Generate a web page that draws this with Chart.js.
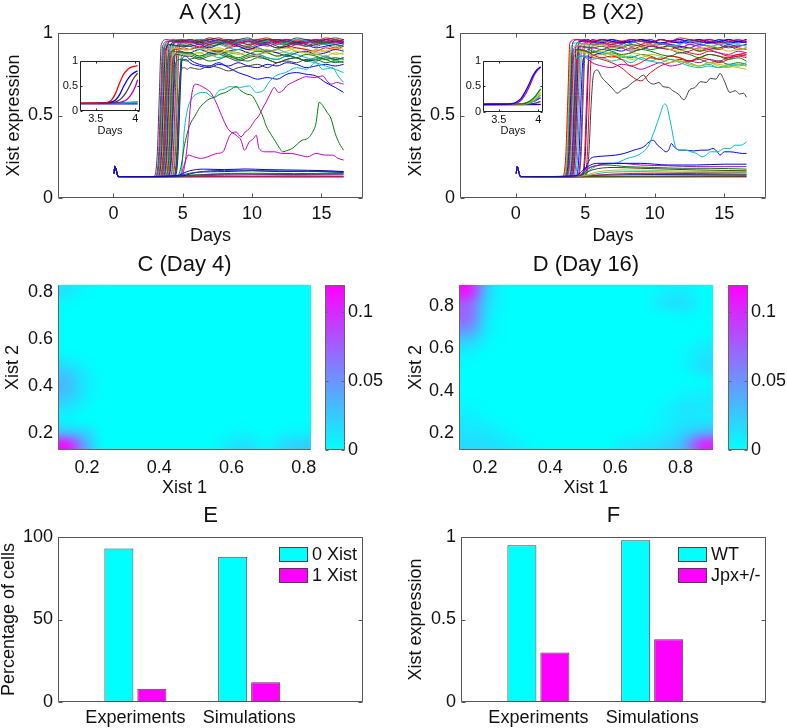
<!DOCTYPE html>
<html>
<head>
<meta charset="utf-8">
<script src="https://cdn.jsdelivr.net/npm/chart.js@4/dist/chart.umd.min.js"></script>
<style>
  body { margin: 0; background: #fff; width: 787px; height: 728px; position: relative; overflow: hidden; }
  canvas { position: absolute; }
</style>
</head>
<body>
<canvas id="cA" width="390" height="250" style="left:0;top:0"></canvas>
<canvas id="cB" width="397" height="250" style="left:390px;top:0"></canvas>
<canvas id="cAi" width="95" height="90" style="left:50px;top:52px"></canvas>
<canvas id="cBi" width="95" height="90" style="left:453px;top:52px"></canvas>
<canvas id="cC" width="390" height="250" style="left:0;top:250px"></canvas>
<canvas id="cCb" width="80" height="250" style="left:310px;top:250px"></canvas>
<canvas id="cD" width="397" height="250" style="left:390px;top:250px"></canvas>
<canvas id="cDb" width="74" height="250" style="left:713px;top:250px"></canvas>
<canvas id="cE" width="390" height="228" style="left:0;top:500px"></canvas>
<canvas id="cF" width="397" height="228" style="left:390px;top:500px"></canvas>
<script>
// ---- data ----
const COLORS = { b: '#0000ff', g: '#008000', r: '#ff0000', c: '#00bfbf', m: '#bf00bf', y: '#bfbf00', k: '#404040' };

const daysTicks = [0, 5, 10, 15];
const exprTicks = [0, 0.5, 1];
const insetDayTicks = [3.5, 4];
const xistTicks = [0.2, 0.4, 0.6, 0.8];
const densTicks = [0, 0.05, 0.1];
const pctTicks = [0, 50, 100];

// every trace starts with the same small spike at day 0
const startPts = [[0.05, 0.15], [0.1, 0.19], [0.35, 0.13]];
// days at which the plateau values of the saturated traces are read
const plateauDays = [5.5, 6.2, 6.9, 7.6, 8.3, 9.0, 9.7, 10.4, 11.1, 11.8, 12.5, 13.2, 13.9, 14.6, 15.3, 16.0, 16.6];

// panel A: traces that switch on and saturate [colour, rise, plateau]
const bandA = [
  ['k', [[2.9, 0.13], [3.15, 0.25], [3.3, 0.6], [3.45, 0.93], [3.8, 0.96], [4.6, 0.95]], [0.96, 0.95, 0.97, 0.96, 0.95, 0.96, 0.97, 0.95, 0.96, 0.96, 0.95, 0.97, 0.96, 0.95, 0.96, 0.97, 0.96]],
  ['m', [[3.0, 0.13], [3.25, 0.25], [3.4, 0.6], [3.55, 0.92], [3.9, 0.95], [4.7, 0.94]], [0.95, 0.93, 0.94, 0.96, 0.94, 0.93, 0.95, 0.94, 0.92, 0.94, 0.95, 0.93, 0.94, 0.96, 0.95, 0.94, 0.95]],
  ['g', [[3.05, 0.13], [3.3, 0.25], [3.45, 0.6], [3.6, 0.9], [4.0, 0.93], [4.8, 0.92]], [0.93, 0.94, 0.92, 0.93, 0.95, 0.93, 0.92, 0.94, 0.93, 0.91, 0.93, 0.94, 0.92, 0.93, 0.94, 0.93, 0.92]],
  ['c', [[3.1, 0.13], [3.35, 0.25], [3.5, 0.6], [3.65, 0.92], [4.0, 0.95], [4.8, 0.94]], [0.95, 0.96, 0.94, 0.95, 0.93, 0.95, 0.96, 0.94, 0.95, 0.93, 0.94, 0.96, 0.95, 0.93, 0.94, 0.92, 0.93]],
  ['r', [[3.15, 0.13], [3.4, 0.25], [3.55, 0.6], [3.7, 0.92], [4.1, 0.95], [4.9, 0.94]], [0.94, 0.95, 0.93, 0.96, 0.94, 0.95, 0.93, 0.95, 0.96, 0.94, 0.93, 0.95, 0.94, 0.96, 0.95, 0.94, 0.96]],
  ['b', [[3.2, 0.13], [3.45, 0.25], [3.6, 0.6], [3.75, 0.9], [4.1, 0.93], [4.9, 0.92]], [0.92, 0.93, 0.91, 0.93, 0.94, 0.92, 0.9, 0.92, 0.93, 0.91, 0.92, 0.94, 0.93, 0.91, 0.92, 0.93, 0.94]],
  ['y', [[3.25, 0.13], [3.5, 0.25], [3.65, 0.6], [3.8, 0.88], [4.2, 0.91], [5.0, 0.9]], [0.9, 0.88, 0.9, 0.91, 0.89, 0.87, 0.89, 0.9, 0.88, 0.9, 0.91, 0.89, 0.88, 0.9, 0.89, 0.91, 0.9]],
  ['k', [[3.3, 0.13], [3.55, 0.25], [3.7, 0.6], [3.85, 0.92], [4.2, 0.95], [5.0, 0.96]], [0.95, 0.96, 0.95, 0.94, 0.96, 0.95, 0.96, 0.94, 0.95, 0.96, 0.95, 0.94, 0.96, 0.95, 0.94, 0.95, 0.96]],
  ['r', [[3.35, 0.13], [3.6, 0.25], [3.75, 0.6], [3.9, 0.93], [4.3, 0.96], [5.0, 0.95]], [0.96, 0.95, 0.96, 0.97, 0.95, 0.96, 0.95, 0.96, 0.97, 0.95, 0.96, 0.95, 0.96, 0.95, 0.97, 0.96, 0.95]],
  ['g', [[3.4, 0.13], [3.65, 0.25], [3.8, 0.6], [3.95, 0.86], [4.3, 0.89], [5.0, 0.88]], [0.88, 0.86, 0.88, 0.89, 0.87, 0.85, 0.87, 0.89, 0.88, 0.86, 0.87, 0.85, 0.87, 0.86, 0.84, 0.85, 0.84]],
  ['m', [[3.45, 0.13], [3.7, 0.25], [3.85, 0.6], [4.0, 0.92], [4.4, 0.94], [5.0, 0.95]], [0.94, 0.95, 0.93, 0.95, 0.96, 0.94, 0.95, 0.93, 0.94, 0.96, 0.95, 0.93, 0.95, 0.94, 0.96, 0.95, 0.94]],
  ['c', [[3.5, 0.13], [3.75, 0.25], [3.9, 0.6], [4.05, 0.9], [4.4, 0.92], [5.0, 0.93]], [0.92, 0.9, 0.92, 0.93, 0.91, 0.9, 0.92, 0.91, 0.89, 0.9, 0.88, 0.87, 0.85, 0.84, 0.86, 0.83, 0.85]],
  ['b', [[3.55, 0.13], [3.8, 0.25], [3.95, 0.6], [4.1, 0.92], [4.5, 0.95], [5.1, 0.95]], [0.95, 0.94, 0.96, 0.95, 0.94, 0.95, 0.96, 0.95, 0.94, 0.95, 0.96, 0.94, 0.95, 0.96, 0.94, 0.95, 0.95]],
  ['r', [[3.6, 0.13], [3.85, 0.25], [4.0, 0.6], [4.15, 0.88], [4.5, 0.9], [5.1, 0.91]], [0.9, 0.92, 0.9, 0.89, 0.91, 0.92, 0.9, 0.91, 0.89, 0.9, 0.92, 0.91, 0.9, 0.89, 0.91, 0.9, 0.92]],
  ['y', [[3.65, 0.13], [3.9, 0.25], [4.05, 0.6], [4.2, 0.85], [4.6, 0.88], [5.1, 0.87]], [0.87, 0.88, 0.86, 0.87, 0.89, 0.88, 0.86, 0.87, 0.88, 0.86, 0.87, 0.89, 0.88, 0.87, 0.86, 0.88, 0.87]],
  ['g', [[3.7, 0.13], [3.95, 0.25], [4.1, 0.6], [4.25, 0.92], [4.6, 0.95], [5.2, 0.94]], [0.95, 0.94, 0.96, 0.95, 0.93, 0.94, 0.95, 0.94, 0.96, 0.95, 0.94, 0.93, 0.95, 0.94, 0.95, 0.96, 0.95]],
  ['k', [[3.75, 0.13], [4.0, 0.25], [4.15, 0.6], [4.3, 0.85], [4.6, 0.87], [5.2, 0.86]], [0.86, 0.84, 0.86, 0.87, 0.85, 0.83, 0.85, 0.86, 0.84, 0.82, 0.84, 0.85, 0.83, 0.84, 0.86, 0.84, 0.85]],
  ['c', [[3.8, 0.13], [4.05, 0.25], [4.2, 0.6], [4.35, 0.93], [4.7, 0.96], [5.2, 0.95]], [0.96, 0.95, 0.96, 0.94, 0.95, 0.96, 0.94, 0.95, 0.96, 0.95, 0.94, 0.96, 0.95, 0.94, 0.93, 0.95, 0.94]],
  ['r', [[3.85, 0.13], [4.1, 0.25], [4.25, 0.6], [4.4, 0.9], [4.8, 0.93], [5.3, 0.92]], [0.93, 0.91, 0.93, 0.94, 0.92, 0.93, 0.91, 0.93, 0.94, 0.92, 0.91, 0.93, 0.92, 0.94, 0.93, 0.91, 0.93]],
  ['b', [[3.9, 0.13], [4.15, 0.25], [4.3, 0.6], [4.45, 0.87], [4.8, 0.89], [5.3, 0.88]], [0.88, 0.9, 0.88, 0.87, 0.89, 0.9, 0.88, 0.87, 0.89, 0.88, 0.86, 0.88, 0.89, 0.87, 0.88, 0.9, 0.89]],
  ['g', [[3.95, 0.13], [4.2, 0.25], [4.35, 0.6], [4.5, 0.82], [4.8, 0.84], [5.3, 0.83]], [0.84, 0.85, 0.83, 0.84, 0.86, 0.84, 0.83, 0.85, 0.84, 0.82, 0.84, 0.85, 0.83, 0.84, 0.82, 0.83, 0.82]],
  ['m', [[4.05, 0.13], [4.3, 0.25], [4.45, 0.6], [4.6, 0.92], [4.9, 0.95], [5.3, 0.94]], [0.95, 0.93, 0.95, 0.94, 0.96, 0.95, 0.93, 0.94, 0.95, 0.93, 0.94, 0.95, 0.94, 0.92, 0.94, 0.95, 0.94]],
  ['y', [[4.1, 0.13], [4.35, 0.25], [4.5, 0.6], [4.65, 0.88], [5.0, 0.9], [5.3, 0.89]], [0.9, 0.91, 0.89, 0.9, 0.88, 0.9, 0.91, 0.89, 0.9, 0.88, 0.89, 0.91, 0.9, 0.88, 0.89, 0.87, 0.88]],
  ['c', [[4.15, 0.13], [4.4, 0.25], [4.55, 0.6], [4.7, 0.86], [5.0, 0.88], [5.3, 0.87]], [0.88, 0.86, 0.87, 0.85, 0.87, 0.88, 0.86, 0.87, 0.85, 0.84, 0.86, 0.85, 0.83, 0.82, 0.8, 0.78, 0.76]],
  ['r', [[4.2, 0.13], [4.45, 0.25], [4.6, 0.6], [4.75, 0.92], [5.1, 0.95], [5.35, 0.95]], [0.95, 0.96, 0.94, 0.95, 0.96, 0.94, 0.95, 0.96, 0.95, 0.94, 0.96, 0.95, 0.94, 0.95, 0.96, 0.95, 0.94]],
  ['k', [[4.3, 0.13], [4.55, 0.25], [4.7, 0.6], [4.85, 0.77], [5.1, 0.79], [5.35, 0.78]], [0.79, 0.78, 0.8, 0.79, 0.77, 0.79, 0.8, 0.81, 0.79, 0.82, 0.83, 0.82, 0.84, 0.83, 0.85, 0.84, 0.85]],
  ['g', [[4.35, 0.13], [4.6, 0.25], [4.75, 0.6], [4.9, 0.86], [5.2, 0.88], [5.4, 0.87]], [0.87, 0.85, 0.87, 0.88, 0.86, 0.84, 0.86, 0.87, 0.85, 0.84, 0.86, 0.85, 0.83, 0.85, 0.84, 0.82, 0.83]],
  ['b', [[4.35, 0.13], [4.6, 0.25], [4.75, 0.6], [4.9, 0.83], [5.2, 0.84], [5.4, 0.83]], [0.82, 0.8, 0.79, 0.81, 0.8, 0.82, 0.8, 0.79, 0.81, 0.8, 0.82, 0.81, 0.79, 0.8, 0.81, 0.8, 0.81]],
  ['b', [[4.4, 0.13], [4.65, 0.25], [4.8, 0.6], [4.95, 0.84], [5.2, 0.86], [5.4, 0.85]], [0.84, 0.81, 0.8, 0.82, 0.79, 0.76, 0.74, 0.72, 0.73, 0.72, 0.75, 0.76, 0.75, 0.74, 0.7, 0.67, 0.64]]
];

// panel A: traces that wander in the middle of the range [colour, points]
const wanderA = [
  ['m', [[4.9, 0.13], [5.3, 0.3], [5.6, 0.6], [5.9, 0.69], [6.3, 0.68], [6.7, 0.66], [7.0, 0.64], [7.4, 0.58], [7.8, 0.5], [8.25, 0.42], [8.85, 0.38], [9.2, 0.35], [9.45, 0.29], [9.8, 0.34], [10.1, 0.36], [10.3, 0.38], [10.5, 0.3], [11.0, 0.28], [11.6, 0.28], [12.2, 0.27], [12.8, 0.27], [13.4, 0.26], [14.0, 0.25], [14.6, 0.27], [15.3, 0.26], [15.8, 0.26], [16.2, 0.24], [16.6, 0.23]]],
  ['m', [[4.8, 0.13], [5.1, 0.2], [5.4, 0.26], [5.8, 0.25], [6.3, 0.24], [6.8, 0.25], [7.1, 0.26], [7.5, 0.27], [7.9, 0.28], [8.2, 0.34], [8.4, 0.38], [8.85, 0.4], [9.2, 0.37], [9.5, 0.4], [9.8, 0.42], [10.2, 0.47], [10.5, 0.5], [10.8, 0.55], [11.0, 0.58], [11.3, 0.63], [11.6, 0.67], [11.9, 0.64], [12.2, 0.65], [12.5, 0.68], [12.9, 0.7], [13.4, 0.72], [13.9, 0.735], [14.5, 0.73], [15.1, 0.74], [15.4, 0.71], [15.7, 0.69], [16.1, 0.7], [16.6, 0.69]]],
  ['g', [[4.6, 0.13], [4.9, 0.2], [5.1, 0.31], [5.5, 0.44], [5.9, 0.5], [6.2, 0.545], [6.6, 0.58], [6.9, 0.6], [7.3, 0.61], [7.7, 0.63], [8.1, 0.64], [8.5, 0.66], [8.85, 0.675], [9.2, 0.65], [9.6, 0.63], [10.0, 0.62], [10.3, 0.58], [10.5, 0.545], [10.8, 0.49], [11.0, 0.44], [11.4, 0.38], [11.7, 0.34], [12.0, 0.3], [12.2, 0.28], [12.6, 0.29], [12.9, 0.3], [13.3, 0.33], [13.6, 0.35], [14.0, 0.36], [14.3, 0.39], [14.6, 0.45], [14.85, 0.58], [15.1, 0.56], [15.4, 0.52], [15.7, 0.48], [16.0, 0.39], [16.3, 0.33], [16.6, 0.29]]],
  ['c', [[4.7, 0.13], [4.95, 0.2], [5.1, 0.4], [5.3, 0.52], [5.5, 0.58], [6.0, 0.63], [6.6, 0.64], [7.2, 0.61], [7.6, 0.65], [8.0, 0.66], [8.4, 0.675], [9.1, 0.67], [9.8, 0.68], [10.3, 0.64], [10.8, 0.65], [11.2, 0.7], [11.7, 0.74], [12.4, 0.76], [13.2, 0.79], [13.9, 0.78], [14.6, 0.82], [15.1, 0.78], [15.8, 0.79], [16.2, 0.74], [16.6, 0.7]]]
];

// panel A: traces that stay low
const lowA = [
  ['b', [[2.5, 0.13], [4.5, 0.135], [5.5, 0.165], [6.5, 0.175], [8, 0.172], [9.5, 0.176], [11, 0.172], [12.5, 0.17], [14, 0.168], [15.5, 0.165], [16.6, 0.16]]],
  ['k', [[2.5, 0.13], [4.5, 0.133], [5.5, 0.15], [7, 0.165], [9, 0.168], [11, 0.165], [13, 0.163], [15, 0.16], [16.6, 0.158]]],
  ['b', [[2.5, 0.13], [5, 0.135], [6, 0.155], [8, 0.16], [10, 0.165], [12, 0.16], [14, 0.162], [16.6, 0.155]]],
  ['g', [[2.5, 0.13], [5, 0.133], [7, 0.145], [10, 0.15], [13, 0.148], [16.6, 0.15]]],
  ['r', [[2.5, 0.128], [6, 0.13], [10, 0.131], [13, 0.129], [16.6, 0.13]]],
  ['m', [[2.5, 0.13], [6, 0.135], [10, 0.14], [13, 0.138], [16.6, 0.14]]],
  ['c', [[2.5, 0.128], [8, 0.13], [16.6, 0.13]]],
  ['k', [[2.5, 0.13], [6, 0.14], [9, 0.145], [12, 0.142], [16.6, 0.145]]],
  ['b', [[2.5, 0.128], [8, 0.128], [16.6, 0.128]]]
];

// panel B
const bandB = [
  ['r', [[3.35, 0.13], [3.6, 0.25], [3.75, 0.6], [3.9, 0.94], [4.3, 0.96], [5.0, 0.95]], [0.95, 0.96, 0.94, 0.95, 0.96, 0.95, 0.94, 0.96, 0.95, 0.97, 0.96, 0.95, 0.96, 0.94, 0.95, 0.96, 0.95]],
  ['y', [[3.4, 0.13], [3.65, 0.25], [3.8, 0.6], [3.95, 0.9], [4.3, 0.92], [5.0, 0.93]], [0.92, 0.93, 0.91, 0.92, 0.9, 0.91, 0.93, 0.92, 0.9, 0.89, 0.91, 0.9, 0.92, 0.91, 0.89, 0.9, 0.91]],
  ['c', [[3.45, 0.13], [3.7, 0.25], [3.85, 0.6], [4.0, 0.92], [4.4, 0.94], [5.0, 0.93]], [0.93, 0.95, 0.94, 0.92, 0.94, 0.95, 0.93, 0.94, 0.92, 0.93, 0.95, 0.94, 0.92, 0.93, 0.94, 0.93, 0.92]],
  ['g', [[3.5, 0.13], [3.75, 0.25], [3.9, 0.6], [4.05, 0.88], [4.4, 0.9], [5.0, 0.89]], [0.88, 0.9, 0.89, 0.87, 0.88, 0.9, 0.89, 0.87, 0.86, 0.88, 0.87, 0.85, 0.87, 0.86, 0.84, 0.85, 0.83]],
  ['b', [[3.55, 0.13], [3.8, 0.25], [3.95, 0.6], [4.1, 0.94], [4.5, 0.96], [5.1, 0.95]], [0.95, 0.96, 0.95, 0.94, 0.96, 0.95, 0.96, 0.94, 0.95, 0.96, 0.95, 0.96, 0.94, 0.95, 0.96, 0.95, 0.96]],
  ['m', [[3.6, 0.13], [3.85, 0.25], [4.0, 0.6], [4.15, 0.9], [4.5, 0.92], [5.1, 0.91]], [0.91, 0.9, 0.92, 0.91, 0.89, 0.9, 0.92, 0.91, 0.9, 0.88, 0.89, 0.91, 0.9, 0.88, 0.87, 0.89, 0.88]],
  ['r', [[3.65, 0.13], [3.9, 0.25], [4.05, 0.6], [4.2, 0.88], [4.6, 0.9], [5.1, 0.89]], [0.87, 0.85, 0.86, 0.84, 0.8, 0.82, 0.85, 0.84, 0.86, 0.85, 0.83, 0.85, 0.87, 0.86, 0.85, 0.87, 0.86]],
  ['y', [[3.7, 0.13], [3.95, 0.25], [4.1, 0.6], [4.25, 0.87], [4.6, 0.89], [5.2, 0.88]], [0.88, 0.89, 0.87, 0.86, 0.88, 0.87, 0.85, 0.84, 0.82, 0.83, 0.81, 0.8, 0.82, 0.81, 0.8, 0.79, 0.78]],
  ['c', [[3.75, 0.13], [4.0, 0.25], [4.15, 0.6], [4.3, 0.84], [4.7, 0.86], [5.2, 0.85]], [0.84, 0.85, 0.83, 0.84, 0.82, 0.85, 0.83, 0.82, 0.84, 0.82, 0.8, 0.79, 0.8, 0.79, 0.81, 0.8, 0.82]],
  ['b', [[3.8, 0.13], [4.05, 0.25], [4.2, 0.6], [4.35, 0.93], [4.7, 0.95], [5.2, 0.96]], [0.95, 0.94, 0.96, 0.95, 0.94, 0.96, 0.95, 0.94, 0.95, 0.96, 0.94, 0.95, 0.96, 0.95, 0.94, 0.95, 0.94]],
  ['m', [[3.85, 0.13], [4.1, 0.25], [4.25, 0.6], [4.4, 0.84], [4.8, 0.86], [5.2, 0.84]], [0.82, 0.8, 0.79, 0.81, 0.8, 0.78, 0.8, 0.82, 0.8, 0.81, 0.83, 0.82, 0.84, 0.83, 0.85, 0.86, 0.87]],
  ['g', [[3.9, 0.13], [4.15, 0.25], [4.3, 0.6], [4.45, 0.9], [4.8, 0.92], [5.3, 0.91]], [0.91, 0.92, 0.9, 0.91, 0.93, 0.92, 0.9, 0.91, 0.92, 0.9, 0.91, 0.89, 0.9, 0.91, 0.92, 0.9, 0.91]],
  ['r', [[3.95, 0.13], [4.2, 0.25], [4.35, 0.6], [4.5, 0.93], [4.9, 0.95], [5.3, 0.94]], [0.94, 0.95, 0.93, 0.94, 0.92, 0.93, 0.95, 0.94, 0.92, 0.9, 0.88, 0.87, 0.89, 0.88, 0.86, 0.87, 0.88]],
  ['b', [[4.0, 0.13], [4.25, 0.25], [4.4, 0.6], [4.55, 0.94], [4.9, 0.96], [5.3, 0.95]], [0.96, 0.95, 0.96, 0.94, 0.95, 0.96, 0.94, 0.96, 0.95, 0.94, 0.96, 0.95, 0.94, 0.96, 0.95, 0.94, 0.95]],
  ['y', [[4.05, 0.13], [4.3, 0.25], [4.45, 0.6], [4.6, 0.86], [5.0, 0.88], [5.3, 0.87]], [0.86, 0.87, 0.85, 0.86, 0.84, 0.85, 0.87, 0.86, 0.84, 0.83, 0.81, 0.8, 0.82, 0.8, 0.79, 0.81, 0.8]],
  ['m', [[4.1, 0.13], [4.35, 0.25], [4.5, 0.6], [4.65, 0.92], [5.0, 0.94], [5.3, 0.93]], [0.93, 0.94, 0.92, 0.93, 0.95, 0.93, 0.92, 0.94, 0.93, 0.91, 0.93, 0.92, 0.94, 0.93, 0.91, 0.92, 0.93]],
  ['c', [[4.2, 0.13], [4.45, 0.25], [4.6, 0.6], [4.75, 0.9], [5.1, 0.92], [5.35, 0.91]], [0.9, 0.88, 0.87, 0.85, 0.86, 0.84, 0.83, 0.85, 0.84, 0.83, 0.82, 0.8, 0.81, 0.79, 0.8, 0.81, 0.8]],
  ['b', [[4.3, 0.13], [4.55, 0.25], [4.7, 0.6], [4.85, 0.84], [5.2, 0.86], [5.4, 0.85]], [0.86, 0.88, 0.9, 0.89, 0.91, 0.9, 0.92, 0.91, 0.93, 0.92, 0.91, 0.93, 0.92, 0.91, 0.93, 0.92, 0.93]],
  ['m', [[4.4, 0.13], [4.65, 0.25], [4.8, 0.6], [4.95, 0.93], [5.2, 0.95], [5.4, 0.94]], [0.95, 0.94, 0.93, 0.95, 0.94, 0.96, 0.95, 0.93, 0.94, 0.95, 0.93, 0.94, 0.95, 0.93, 0.94, 0.95, 0.94]],
  ['g', [[4.45, 0.13], [4.7, 0.25], [4.85, 0.6], [5.0, 0.88], [5.3, 0.9], [5.45, 0.89]], [0.89, 0.87, 0.88, 0.86, 0.85, 0.87, 0.86, 0.84, 0.86, 0.85, 0.83, 0.84, 0.82, 0.83, 0.81, 0.82, 0.81]],
  ['r', [[4.7, 0.13], [4.95, 0.25], [5.1, 0.6], [5.25, 0.84], [5.4, 0.85]], [0.85, 0.84, 0.82, 0.79, 0.74, 0.71, 0.76, 0.8, 0.82, 0.84, 0.83, 0.85, 0.84, 0.82, 0.84, 0.86, 0.85]],
  ['b', [[4.75, 0.13], [5.0, 0.25], [5.15, 0.6], [5.3, 0.92], [5.45, 0.94]], [0.94, 0.96, 0.95, 0.94, 0.96, 0.95, 0.94, 0.96, 0.95, 0.94, 0.95, 0.96, 0.95, 0.94, 0.96, 0.95, 0.96]],
  ['r', [[4.95, 0.13], [5.15, 0.25], [5.3, 0.6], [5.45, 0.9]], [0.92, 0.93, 0.91, 0.92, 0.9, 0.92, 0.93, 0.91, 0.9, 0.92, 0.91, 0.89, 0.91, 0.9, 0.92, 0.91, 0.9]]
];

const wanderB = [
  ['k', [[5.0, 0.13], [5.25, 0.25], [5.45, 0.6], [5.6, 0.75], [5.86, 0.776], [6.2, 0.73], [6.6, 0.695], [7.0, 0.66], [7.3, 0.635], [7.7, 0.66], [8.0, 0.67], [8.4, 0.7], [8.7, 0.715], [9.2, 0.745], [9.5, 0.71], [9.9, 0.69], [10.3, 0.7], [10.6, 0.675], [11.0, 0.67], [11.3, 0.65], [11.7, 0.63], [12.1, 0.595], [12.5, 0.655], [12.9, 0.67], [13.3, 0.705], [13.7, 0.7], [14.0, 0.725], [14.4, 0.72], [14.7, 0.755], [15.0, 0.71], [15.4, 0.64], [15.8, 0.65], [16.1, 0.63], [16.4, 0.635], [16.6, 0.61]]],
  ['c', [[4.6, 0.13], [5.0, 0.15], [5.5, 0.18], [6.0, 0.2], [6.5, 0.21], [7.0, 0.21], [7.5, 0.22], [8.0, 0.24], [8.5, 0.25], [9.0, 0.27], [9.5, 0.31], [9.9, 0.39], [10.2, 0.46], [10.4, 0.51], [10.6, 0.56], [10.75, 0.57], [10.9, 0.55], [11.05, 0.49], [11.2, 0.43], [11.35, 0.36], [11.5, 0.31], [11.8, 0.29], [12.2, 0.29], [12.6, 0.28], [13.0, 0.27], [13.4, 0.25], [13.7, 0.26], [14.0, 0.28], [14.5, 0.28], [15.0, 0.3], [15.4, 0.3], [15.8, 0.32], [16.2, 0.32], [16.6, 0.34]]],
  ['b', [[4.5, 0.13], [4.9, 0.16], [5.4, 0.24], [5.8, 0.25], [6.5, 0.255], [7.2, 0.26], [7.8, 0.27], [8.5, 0.29], [9.2, 0.31], [9.6, 0.34], [9.9, 0.35], [10.2, 0.32], [10.5, 0.3], [10.8, 0.28], [11.0, 0.29], [11.2, 0.33], [11.4, 0.31], [11.8, 0.29], [12.2, 0.29], [12.8, 0.285], [13.3, 0.29], [13.8, 0.29], [14.2, 0.3], [14.5, 0.28], [14.7, 0.26], [15.0, 0.28], [15.4, 0.28], [15.9, 0.275], [16.3, 0.27], [16.6, 0.27]]]
];

const lowB = [
  ['b', [[2.5, 0.13], [4.3, 0.135], [5.0, 0.18], [5.8, 0.21], [7, 0.21], [9, 0.21], [11, 0.2], [13, 0.2], [15, 0.205], [16.6, 0.205]]],
  ['m', [[2.5, 0.13], [4.4, 0.135], [5.2, 0.18], [6, 0.2], [7.5, 0.21], [9, 0.2], [11, 0.195], [13, 0.19], [15, 0.19], [16.6, 0.19]]],
  ['g', [[2.5, 0.13], [4.5, 0.135], [5.5, 0.19], [6.5, 0.2], [8, 0.19], [10, 0.185], [12, 0.18], [14, 0.18], [16.6, 0.175]]],
  ['k', [[2.5, 0.13], [4.6, 0.135], [5.5, 0.17], [7, 0.185], [9, 0.18], [11, 0.175], [13, 0.17], [16.6, 0.165]]],
  ['y', [[2.5, 0.13], [4.8, 0.135], [6, 0.16], [8, 0.17], [11, 0.165], [14, 0.16], [16.6, 0.16]]],
  ['c', [[2.5, 0.13], [5, 0.135], [6.5, 0.155], [9, 0.16], [12, 0.155], [16.6, 0.155]]],
  ['r', [[2.5, 0.13], [5, 0.133], [7, 0.145], [10, 0.15], [13, 0.148], [16.6, 0.145]]],
  ['g', [[2.5, 0.128], [8, 0.132], [16.6, 0.135]]],
  ['k', [[2.5, 0.128], [16.6, 0.13]]],
  ['r', [[2.5, 0.128], [16.6, 0.128]]],
  ['b', [[2.5, 0.13], [6, 0.138], [10, 0.142], [16.6, 0.14]]]
];

// insets: zoom on days 3.3 - 4.05
const insetA = [
  ['r', [[3.3, 0.15], [3.55, 0.155], [3.65, 0.17], [3.7, 0.22], [3.75, 0.35], [3.8, 0.55], [3.85, 0.72], [3.9, 0.82], [3.95, 0.87], [4.03, 0.9]]],
  ['b', [[3.3, 0.15], [3.6, 0.16], [3.7, 0.18], [3.75, 0.22], [3.8, 0.32], [3.85, 0.48], [3.9, 0.62], [3.95, 0.72], [4.03, 0.8]]],
  ['k', [[3.3, 0.15], [3.7, 0.16], [3.78, 0.2], [3.83, 0.26], [3.88, 0.36], [3.93, 0.5], [3.98, 0.65], [4.03, 0.75]]],
  ['m', [[3.3, 0.15], [3.75, 0.16], [3.85, 0.19], [3.9, 0.24], [3.95, 0.33], [4.0, 0.48], [4.03, 0.62]]],
  ['c', [[3.3, 0.15], [3.7, 0.155], [4.03, 0.17]]],
  ['g', [[3.3, 0.15], [3.7, 0.155], [4.03, 0.18]]],
  ['b', [[3.3, 0.14], [4.03, 0.14]]]
];
const insetB = [
  ['b', [[3.3, 0.15], [3.65, 0.16], [3.72, 0.19], [3.78, 0.26], [3.83, 0.38], [3.88, 0.53], [3.93, 0.7], [3.98, 0.82], [4.03, 0.88]]],
  ['m', [[3.3, 0.15], [3.67, 0.16], [3.75, 0.19], [3.8, 0.26], [3.85, 0.38], [3.9, 0.54], [3.95, 0.72], [4.0, 0.83], [4.03, 0.87]]],
  ['g', [[3.3, 0.15], [3.8, 0.16], [3.9, 0.22], [3.97, 0.32], [4.03, 0.45]]],
  ['y', [[3.3, 0.15], [3.82, 0.16], [3.92, 0.22], [3.98, 0.3], [4.03, 0.38]]],
  ['c', [[3.3, 0.15], [3.85, 0.16], [3.95, 0.22], [4.03, 0.33]]],
  ['m', [[3.3, 0.15], [3.8, 0.16], [3.95, 0.21], [4.03, 0.28]]],
  ['k', [[3.3, 0.15], [3.9, 0.16], [4.03, 0.2]]],
  ['b', [[3.3, 0.145], [4.03, 0.15]]],
  ['r', [[3.3, 0.14], [4.03, 0.145]]]
];

// panels C, D: density of (Xist 1, Xist 2), rows from top (high Xist 2) to bottom
const heatC = [
  [0.012, 0.003, 0, 0, 0, 0, 0, 0, 0, 0, 0, 0, 0, 0],
  [0.003, 0, 0, 0, 0, 0, 0, 0, 0, 0, 0, 0, 0, 0],
  [0, 0, 0, 0, 0, 0, 0, 0, 0, 0, 0, 0, 0, 0],
  [0, 0, 0, 0, 0, 0, 0, 0, 0, 0, 0, 0, 0, 0],
  [0, 0, 0, 0, 0, 0, 0, 0, 0, 0, 0, 0, 0, 0],
  [0, 0, 0, 0, 0, 0, 0, 0, 0, 0, 0, 0, 0, 0],
  [0.01, 0.002, 0, 0, 0, 0, 0, 0, 0, 0, 0, 0, 0, 0],
  [0.025, 0.008, 0, 0, 0, 0, 0, 0, 0, 0, 0, 0, 0, 0],
  [0.032, 0.01, 0, 0, 0, 0, 0, 0, 0, 0, 0, 0, 0, 0],
  [0.025, 0.008, 0, 0, 0, 0, 0, 0, 0, 0, 0, 0, 0, 0],
  [0.012, 0.003, 0, 0, 0, 0, 0, 0, 0, 0, 0, 0, 0, 0],
  [0.005, 0, 0, 0, 0, 0, 0, 0, 0, 0, 0, 0, 0, 0],
  [0.03, 0.02, 0, 0, 0, 0, 0, 0, 0, 0.003, 0.004, 0, 0.004, 0.006],
  [0.11, 0.04, 0, 0, 0, 0, 0, 0, 0, 0.01, 0.014, 0.004, 0.016, 0.022]
];
const heatD = [
  [0.11, 0.02, 0, 0, 0, 0, 0, 0, 0, 0, 0.005, 0.008, 0],
  [0.075, 0.015, 0, 0, 0, 0, 0, 0, 0, 0, 0.012, 0.015, 0.002],
  [0.07, 0.01, 0, 0, 0, 0, 0, 0, 0, 0, 0, 0.003, 0],
  [0.05, 0.008, 0, 0, 0, 0, 0, 0, 0, 0, 0, 0, 0],
  [0.02, 0.003, 0, 0, 0, 0, 0, 0, 0, 0, 0, 0, 0.005],
  [0.005, 0, 0, 0, 0, 0, 0, 0, 0, 0, 0, 0.003, 0.012],
  [0, 0, 0, 0, 0, 0, 0, 0, 0, 0, 0, 0.003, 0.015],
  [0, 0, 0, 0, 0, 0, 0, 0, 0, 0, 0, 0, 0.003],
  [0, 0, 0, 0, 0, 0, 0, 0, 0, 0, 0, 0.004, 0.006],
  [0.003, 0, 0, 0, 0, 0, 0, 0, 0, 0, 0.004, 0.012, 0.012],
  [0.008, 0.003, 0, 0, 0, 0, 0, 0, 0, 0, 0.006, 0.012, 0.01],
  [0.012, 0.01, 0.004, 0, 0, 0, 0, 0, 0, 0.003, 0.008, 0.018, 0.03],
  [0.016, 0.015, 0.01, 0.003, 0, 0, 0, 0, 0.008, 0.012, 0.016, 0.035, 0.1]
];
const densMax = 0.12;

// panels E, F
const groups = ['Experiments', 'Simulations'];
const groupPos = [1, 2];
const zeroXist = [93, 88];
const oneXist = [8, 12];
const wtExpr = [0.95, 0.98];
const jpxExpr = [0.3, 0.38];

// ---- drawing ----
const FONT = '"Liberation Sans", Arial, Helvetica, sans-serif';
Chart.defaults.font.family = FONT;
Chart.defaults.color = '#111';
Chart.defaults.animation = false;
Chart.defaults.plugins.legend.display = false;
Chart.defaults.plugins.tooltip.enabled = false;

function trace(c, pts, w) {
  return {
    data: pts.map(p => ({ x: p[0], y: p[1] })),
    borderColor: COLORS[c], borderWidth: w || 1, pointRadius: 0, fill: false,
    cubicInterpolationMode: 'monotone'
  };
}
const bandTraces = list => list.map(([c, rise, lvl]) =>
  trace(c, startPts.concat(rise, lvl.map((v, i) => [plateauDays[i], v]))));
const plainTraces = (list, withStart, w) => list.map(([c, pts]) => trace(c, withStart ? startPts.concat(pts) : pts, w));

function axis(o) {
  return {
    type: 'linear', position: o.position, min: o.min, max: o.max, offset: false, display: o.display !== false,
    grid: { display: false, drawTicks: false },
    border: { display: false },
    ticks: {
      font: { size: o.tickSize || 18 }, padding: o.pad, color: '#111', maxRotation: 0, autoSkip: false,
      callback: o.labels ? (v => o.labels[o.ticks.indexOf(v)]) : (v => String(v))
    },
    afterBuildTicks: s => { s.ticks = o.ticks.map(v => ({ value: v })); },
    afterFit: s => { if (s.isHorizontal()) s.height = o.size; else s.width = o.size; },
    title: o.title ? { display: true, text: o.title, color: '#111', font: { size: o.titleSize || 18, lineHeight: o.titleLh || 1.2 }, padding: o.titlePad } : { display: false }
  };
}
function title(text, top, bottom) {
  return { display: true, text, fullSize: false, color: '#111', font: { size: 22, weight: 'normal' }, padding: { top, bottom } };
}

const framePlugin = {
  id: 'frame',
  afterDatasetsDraw(chart, args, o) {
    const { ctx, chartArea: a } = chart;
    const L = Math.round(a.left) + 0.5, R = Math.round(a.right) - 0.5;
    const T = Math.round(a.top) + 0.5, B = Math.round(a.bottom) - 0.5;
    ctx.save();
    ctx.strokeStyle = o.color || '#555';
    ctx.lineWidth = 1;
    ctx.beginPath();
    if (o.sides === 'lb') {
      ctx.moveTo(L, T); ctx.lineTo(L, B); ctx.lineTo(R, B);
    } else {
      ctx.rect(L, T, R - L, B - T);
    }
    const len = o.tick || 0;
    if (len) {
      const xs = chart.scales.x, ys = chart.scales.y;
      if (o.xTicks !== false) xs.ticks.forEach(t => {
        const p = Math.round(xs.getPixelForValue(t.value)) + 0.5;
        ctx.moveTo(p, B); ctx.lineTo(p, B - len);
        ctx.moveTo(p, T); ctx.lineTo(p, T + len);
      });
      ys.ticks.forEach(t => {
        const p = Math.round(ys.getPixelForValue(t.value)) + 0.5;
        ctx.moveTo(L, p); ctx.lineTo(L + len, p);
        ctx.moveTo(R, p); ctx.lineTo(R - len, p);
      });
    }
    ctx.stroke();
    ctx.restore();
  }
};
const whitePlugin = {
  id: 'white',
  beforeDatasetsDraw(chart) {
    const { ctx, chartArea: a } = chart;
    ctx.save(); ctx.fillStyle = '#fff'; ctx.fillRect(a.left, a.top, a.right - a.left, a.bottom - a.top); ctx.restore();
  }
};
function cool(t) {
  t = Math.max(0, Math.min(1, t));
  return [Math.round(255 * t), Math.round(255 * (1 - t)), 255];
}
const heatPlugin = {
  id: 'heat',
  beforeDatasetsDraw(chart, args, o) {
    const rows = o.grid.length, cols = o.grid[0].length;
    const off = document.createElement('canvas');
    off.width = cols; off.height = rows;
    const octx = off.getContext('2d');
    const img = octx.createImageData(cols, rows);
    o.grid.forEach((row, r) => row.forEach((v, c) => {
      const [R, G, B] = cool(v / o.vmax);
      const k = (r * cols + c) * 4;
      img.data[k] = R; img.data[k + 1] = G; img.data[k + 2] = B; img.data[k + 3] = 255;
    }));
    octx.putImageData(img, 0, 0);
    const { x, y } = chart.scales;
    const left = x.getPixelForValue(o.x0), right = x.getPixelForValue(o.x0 + cols * o.step);
    const top = y.getPixelForValue(o.y0 + rows * o.step), bottom = y.getPixelForValue(o.y0);
    const { ctx, chartArea: a } = chart;
    ctx.save();
    ctx.beginPath(); ctx.rect(a.left, a.top, a.right - a.left, a.bottom - a.top); ctx.clip();
    ctx.imageSmoothingEnabled = true;
    ctx.imageSmoothingQuality = 'high';
    ctx.drawImage(off, left, top, right - left, bottom - top);
    ctx.restore();
  }
};
const colorbarPlugin = {
  id: 'colorbar',
  beforeDatasetsDraw(chart) {
    const { ctx, chartArea: a } = chart;
    const ys = chart.scales.y;
    const g = ctx.createLinearGradient(0, ys.getPixelForValue(ys.min), 0, ys.getPixelForValue(ys.max));
    g.addColorStop(0, 'rgb(0,255,255)');
    g.addColorStop(1, 'rgb(255,0,255)');
    ctx.save(); ctx.fillStyle = g; ctx.fillRect(a.left, a.top, a.right - a.left, a.bottom - a.top); ctx.restore();
  }
};
const swatchPlugin = {
  id: 'swatches',
  afterDatasetsDraw(chart, args, o) {
    const { ctx, chartArea: a } = chart;
    ctx.save();
    chart.data.datasets.forEach((ds, i) => {
      const x = a.left + o.dx, y = a.top + o.dy + i * o.gap;
      ctx.fillStyle = ds.backgroundColor;
      ctx.fillRect(x, y, 29, 15);
      ctx.strokeStyle = '#444';
      ctx.strokeRect(x + 0.5, y + 0.5, 28, 14);
      ctx.fillStyle = '#111';
      ctx.font = '18px ' + FONT;
      ctx.textBaseline = 'middle';
      ctx.fillText(ds.label, x + 33, y + 8);
    });
    ctx.restore();
  }
};

// A and B: time courses (dataset 0 is drawn last, on top)
function timeChart(id, datasets, text, yw, ytp, right) {
  new Chart(document.getElementById(id), {
    type: 'line',
    data: { datasets },
    plugins: [framePlugin],
    options: {
      responsive: false,
      layout: { padding: { left: 0, right, top: 0, bottom: 0 } },
      scales: {
        x: axis({ min: -4, max: 18, ticks: daysTicks, size: 52, pad: 5, title: 'Days', titlePad: { top: 0, bottom: 3 } }),
        y: axis({ min: 0, max: 1, ticks: exprTicks, size: yw, pad: 5, title: 'Xist expression', titlePad: { top: ytp, bottom: 0 } })
      },
      plugins: { title: title(text, 0, 6.6), frame: { tick: 4 } }
    }
  });
}
timeChart('cA', [...plainTraces(lowA, true), ...plainTraces(wanderA, true), ...bandTraces(bandA)], 'A (X1)', 58, 3, 27);
timeChart('cB', [...plainTraces(lowB, true), ...plainTraces(wanderB, true), ...bandTraces(bandB)], 'B (X2)', 70, 14.8, 21);

function insetChart(id, list, xh) {
  new Chart(document.getElementById(id), {
    type: 'line',
    data: { datasets: plainTraces(list, false, 1.3) },
    plugins: [whitePlugin, framePlugin],
    options: {
      responsive: false,
      layout: { padding: { left: 0, right: 5, top: 8, bottom: 0 } },
      scales: {
        x: axis({ min: 3.3, max: 4.06, ticks: insetDayTicks, size: xh, pad: 1, tickSize: 11, title: 'Days', titleSize: 11, titlePad: { top: 0, bottom: 4 } }),
        y: axis({ min: 0, max: 1, ticks: exprTicks, size: 30, pad: 2, tickSize: 11 })
      },
      plugins: { frame: { tick: 2, color: '#222' } }
    }
  });
}
insetChart('cAi', insetA, 31);
insetChart('cBi', insetB, 30);

// C and D: density maps
function heatChart(id, grid, text, lo, hi, step, yw, ytp, right) {
  new Chart(document.getElementById(id), {
    type: 'scatter',
    data: { datasets: [{ data: [] }] },
    plugins: [heatPlugin, framePlugin],
    options: {
      responsive: false,
      layout: { padding: { left: 0, right, top: 0, bottom: 0 } },
      scales: {
        x: axis({ min: lo[0], max: hi[0], ticks: xistTicks, size: 50, pad: 7, title: 'Xist 1', titlePad: { top: 0, bottom: 1.2 } }),
        y: axis({ min: lo[1], max: hi[1], ticks: xistTicks, size: yw, pad: 5, title: 'Xist 2', titlePad: { top: ytp, bottom: 0 } })
      },
      plugins: {
        title: title(text, 2, 6.6),
        heat: { grid, x0: lo[0], y0: lo[1], step, vmax: densMax },
        frame: { sides: 'lb', color: '#666' }
      }
    }
  });
}
heatChart('cC', heatC, 'C (Day 4)', [0.12, 0.13], [0.82, 0.83], 0.05, 58, 2.7, 79);
heatChart('cD', heatD, 'D (Day 16)', [0.12, 0.12], [0.9, 0.9], 0.06, 69, 14.8, 74);

function colorbar(id, yw) {
  new Chart(document.getElementById(id), {
    type: 'scatter',
    data: { datasets: [{ data: [] }] },
    plugins: [colorbarPlugin, framePlugin],
    options: {
      responsive: false,
      layout: { padding: { left: 15, right: 0, top: 35, bottom: 50 } },
      scales: {
        x: { display: false, min: 0, max: 1 },
        y: axis({ position: 'right', min: 0, max: densMax, ticks: densTicks, size: yw, pad: 3 })
      },
      plugins: { frame: { tick: 3, xTicks: false, color: '#666' } }
    }
  });
}
colorbar('cCb', 45);
colorbar('cDb', 39);

// E and F: bar charts
function barChart(id, text, a, b, labels, colors, yTicks, yMax, yTitle, yw, ytp, ylh, right, dx) {
  new Chart(document.getElementById(id), {
    type: 'bar',
    data: {
      datasets: [a, b].map((vals, i) => ({
        label: labels[i],
        data: groupPos.map((x, j) => ({ x, y: vals[j] })),
        backgroundColor: colors[i], borderColor: '#444', borderWidth: 1,
        categoryPercentage: 0.58, barPercentage: 0.88
      }))
    },
    plugins: [framePlugin, swatchPlugin],
    options: {
      responsive: false,
      layout: { padding: { left: 0, right, top: 0, bottom: 0 } },
      scales: {
        x: axis({ min: 0.32, max: 3.0, ticks: groupPos, labels: groups, size: 26, pad: 5 }),
        y: axis({ min: 0, max: yMax, ticks: yTicks, size: yw, pad: 5, title: yTitle, titleLh: ylh, titlePad: { top: ytp, bottom: 0 } })
      },
      plugins: {
        title: title(text, 3, 7.6),
        frame: { tick: 4, xTicks: false },
        swatches: { dx, dy: 10, gap: 21 }
      }
    }
  });
}
barChart('cE', 'E', zeroXist, oneXist, ['0 Xist', '1 Xist'], ['#00ffff', '#ff00ff'], pctTicks, 100, 'Percentage of cells', 58, 0, 1.0, 27, 221);
barChart('cF', 'F', wtExpr, jpxExpr, ['WT', 'Jpx+/-'], ['#00ffff', '#ff00ff'], exprTicks, 1, 'Xist expression', 71, 14.8, 1.2, 21, 217);
</script>
</body>
</html>
